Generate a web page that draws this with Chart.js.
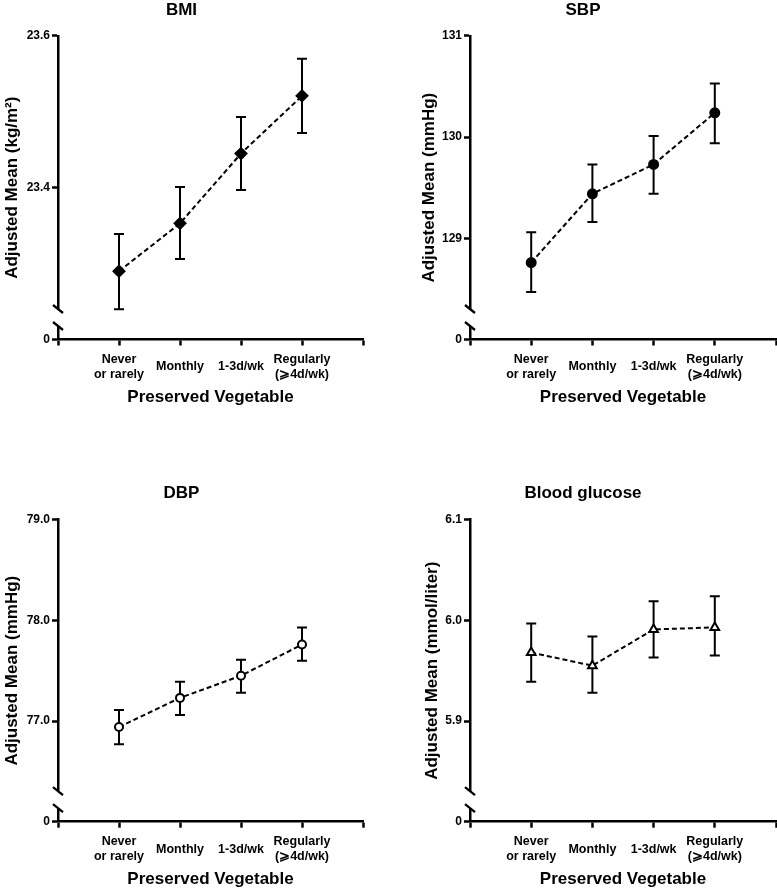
<!DOCTYPE html>
<html>
<head>
<meta charset="utf-8">
<script src="https://cdn.jsdelivr.net/npm/chart.js"></script>
<style>
  body { margin: 0; background: #fff; }
  #wrap { position: relative; width: 777px; height: 891px; }
  canvas { position: absolute; }
</style>
</head>
<body>
<div id="wrap">
  <canvas id="bmiChart" width="390" height="420" style="left:0;top:0"></canvas>
  <canvas id="sbpChart" width="387" height="420" style="left:390px;top:0"></canvas>
  <canvas id="dbpChart" width="390" height="431" style="left:0;top:460px"></canvas>
  <canvas id="gluChart" width="387" height="431" style="left:390px;top:460px"></canvas>
</div>
<script>
// categorias del eje x
const categories = [['Never', 'or rarely'], 'Monthly', '1-3d/wk', ['Regularly', '(⩾4d/wk)']];

// BMI
const bmiMean = [23.290, 23.353, 23.445, 23.521];
const bmiLower = [23.240, 23.306, 23.397, 23.472];
const bmiUpper = [23.339, 23.401, 23.493, 23.570];
const bmiTickValues = [23.2, 23.4, 23.6];
const bmiTickLabels = ['0', '23.4', '23.6'];

// SBP
const sbpMean = [128.76, 129.44, 129.73, 130.24];
const sbpLower = [128.47, 129.16, 129.44, 129.94];
const sbpUpper = [129.06, 129.73, 130.01, 130.53];
const sbpTickValues = [128, 129, 130, 131];
const sbpTickLabels = ['0', '129', '130', '131'];

// DBP
const dbpMean = [76.94, 77.23, 77.45, 77.76];
const dbpLower = [76.77, 77.06, 77.28, 77.60];
const dbpUpper = [77.11, 77.39, 77.61, 77.93];
const dbpTickValues = [76, 77, 78, 79];
const dbpTickLabels = ['0', '77.0', '78.0', '79.0'];

// Blood glucose
const gluMean = [5.968, 5.955, 5.991, 5.993];
const gluLower = [5.939, 5.928, 5.963, 5.965];
const gluUpper = [5.997, 5.984, 6.019, 6.024];
const gluTickValues = [5.8, 5.9, 6.0, 6.1];
const gluTickLabels = ['0', '5.9', '6.0', '6.1'];

const FONT = "'Liberation Sans', Arial, sans-serif";
Chart.defaults.font.family = FONT;
Chart.defaults.font.weight = 'bold';
Chart.defaults.color = '#000';

// barras de error (se dibujan debajo de los puntos)
const errorBars = {
    id: 'errorBars',
    beforeDatasetsDraw(chart, args, opts) {
        const { ctx, scales: { x, y } } = chart;
        ctx.save();
        ctx.strokeStyle = '#000';
        ctx.lineWidth = 2;
        opts.lower.forEach((lo, i) => {
            const px = x.getPixelForValue(i);
            const yLo = y.getPixelForValue(lo);
            const yHi = y.getPixelForValue(opts.upper[i]);
            ctx.beginPath();
            ctx.moveTo(px, yLo); ctx.lineTo(px, yHi);
            ctx.moveTo(px - 5, yLo); ctx.lineTo(px + 5, yLo);
            ctx.moveTo(px - 5, yHi); ctx.lineTo(px + 5, yHi);
            ctx.stroke();
        });
        ctx.restore();
    }
};

// corte del eje y
const axisBreak = {
    id: 'axisBreak',
    afterDraw(chart) {
        const { ctx, chartArea, scales: { y } } = chart;
        const ax = chartArea.left;
        const zero = y.getPixelForValue(y.min);
        const up = zero - 30.5, low = zero - 13.5;
        ctx.save();
        ctx.fillStyle = '#fff';
        ctx.fillRect(ax - 4, up, 8, low - up);
        ctx.strokeStyle = '#000';
        ctx.lineWidth = 2.3;
        [up, low].forEach(c => {
            ctx.beginPath();
            ctx.moveTo(ax - 5, c - 4);
            ctx.lineTo(ax + 5, c + 4);
            ctx.stroke();
        });
        ctx.restore();
    }
};

function createPanel(cfg) {
    const ctx = document.getElementById(cfg.id).getContext('2d');
    new Chart(ctx, {
        type: 'line',
        data: {
            datasets: [{
                data: cfg.mean.map((v, i) => ({ x: i, y: v })),
                borderColor: '#000',
                borderWidth: 2,
                borderDash: [5, 3],
                tension: 0,
                pointStyle: cfg.pointStyle,
                pointRadius: cfg.pointRadius,
                pointBackgroundColor: cfg.fill,
                pointBorderColor: '#000',
                pointBorderWidth: 2
            }]
        },
        options: {
            responsive: false,
            animation: false,
            events: [],
            layout: {
                autoPadding: false,
                padding: { top: 0, left: 0, right: cfg.padRight, bottom: cfg.padBottom }
            },
            plugins: {
                legend: { display: false },
                tooltip: { enabled: false },
                title: {
                    display: true,
                    text: cfg.title,
                    font: { size: 17, weight: 'bold' },
                    padding: cfg.titlePad
                },
                errorBars: { lower: cfg.lower, upper: cfg.upper }
            },
            scales: {
                x: {
                    type: 'linear',
                    min: -1,
                    max: 4,
                    afterFit: s => { s.height = 68; s.paddingLeft = 0; s.paddingRight = 0; },
                    afterBuildTicks: s => { s.ticks = [-1, 0, 1, 2, 3, 4].map(v => ({ value: v })); },
                    border: { color: '#000', width: 2.5 },
                    grid: { drawOnChartArea: false, tickLength: 6, tickWidth: 2.5, tickColor: '#000' },
                    ticks: {
                        autoSkip: false,
                        maxRotation: 0,
                        padding: 14,
                        crossAlign: 'center',
                        font: { size: 12.5, weight: 'bold', lineHeight: 1.2 },
                        callback: v => (v >= 0 && v < categories.length) ? categories[v] : ''
                    },
                    title: {
                        display: true,
                        text: 'Preserved Vegetable',
                        font: { size: 17, weight: 'bold' },
                        padding: { top: 0, bottom: 0 }
                    }
                },
                y: {
                    min: cfg.tickValues[0],
                    max: cfg.tickValues[cfg.tickValues.length - 1],
                    afterFit: s => { s.width = cfg.yWidth; },
                    afterBuildTicks: s => { s.ticks = cfg.tickValues.map(v => ({ value: v })); },
                    border: { color: '#000', width: 2.5 },
                    grid: { drawOnChartArea: false, tickLength: 6, tickWidth: 2.5, tickColor: '#000' },
                    ticks: {
                        padding: 2,
                        font: { size: 12, weight: 'bold' },
                        callback: (v, i) => cfg.tickLabels[i]
                    },
                    title: {
                        display: true,
                        text: cfg.yTitle,
                        font: { size: 17, weight: 'bold' },
                        padding: { top: cfg.yTitlePad, bottom: 0 }
                    }
                }
            }
        },
        plugins: [errorBars, axisBreak]
    });
}

createPanel({
    id: 'bmiChart', title: 'BMI', yTitle: 'Adjusted Mean (kg/m²)',
    mean: bmiMean, lower: bmiLower, upper: bmiUpper,
    tickValues: bmiTickValues, tickLabels: bmiTickLabels,
    pointStyle: 'rectRot', pointRadius: 5.5, fill: '#000',
    yWidth: 58, yTitlePad: 2.3, padRight: 27, padBottom: 12.5,
    titlePad: { top: 0.5, bottom: 15 }
});
createPanel({
    id: 'sbpChart', title: 'SBP', yTitle: 'Adjusted Mean (mmHg)',
    mean: sbpMean, lower: sbpLower, upper: sbpUpper,
    tickValues: sbpTickValues, tickLabels: sbpTickLabels,
    pointStyle: 'circle', pointRadius: 4.5, fill: '#000',
    yWidth: 80, yTitlePad: 29, padRight: 1, padBottom: 12.5,
    titlePad: { top: 0.5, bottom: 15 }
});
createPanel({
    id: 'dbpChart', title: 'DBP', yTitle: 'Adjusted Mean (mmHg)',
    mean: dbpMean, lower: dbpLower, upper: dbpUpper,
    tickValues: dbpTickValues, tickLabels: dbpTickLabels,
    pointStyle: 'circle', pointRadius: 4, fill: '#fff',
    yWidth: 58, yTitlePad: 2.3, padRight: 27, padBottom: 1.3,
    titlePad: { top: 22.7, bottom: 16.6 }
});
createPanel({
    id: 'gluChart', title: 'Blood glucose', yTitle: 'Adjusted Mean (mmol/liter)',
    mean: gluMean, lower: gluLower, upper: gluUpper,
    tickValues: gluTickValues, tickLabels: gluTickLabels,
    pointStyle: 'triangle', pointRadius: 5, fill: '#fff',
    yWidth: 80, yTitlePad: 32.3, padRight: 1, padBottom: 1.3,
    titlePad: { top: 22.7, bottom: 16.6 }
});
</script>
</body>
</html>
